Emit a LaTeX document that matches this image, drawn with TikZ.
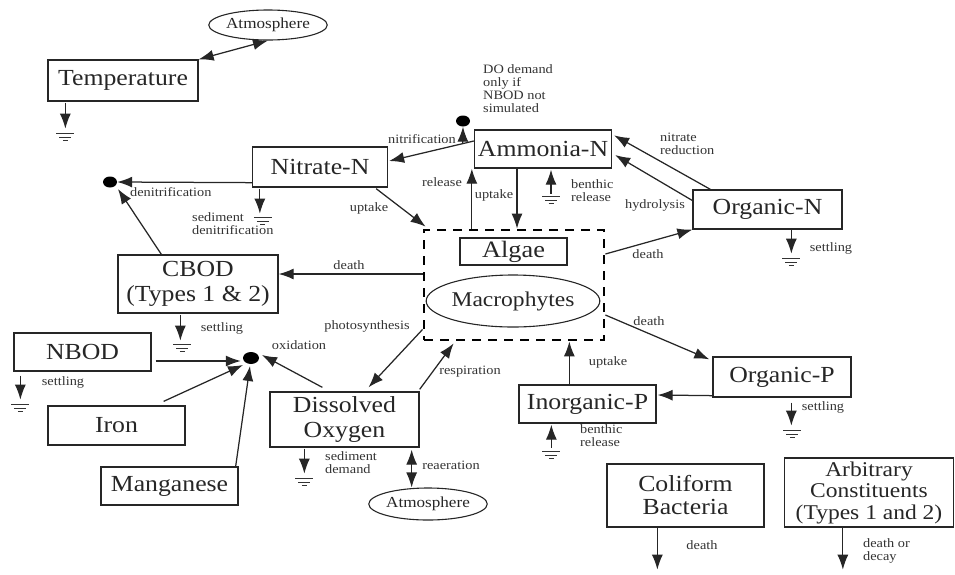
\documentclass[tikz,border=0pt]{standalone}
\usepackage{fontspec}
\setmainfont[FakeStretch=1.12]{Liberation Serif}
\usetikzlibrary{arrows.meta,calc,shapes.geometric}
\tikzset{
  gnd/.pic={\draw[line width=1pt,black!80] (-9,0)--(9,0) (-6,3.5)--(6,3.5) (-2.5,7)--(2.5,7);}
}
\begin{document}
\begin{tikzpicture}[x=1pt,y=-1pt,
  every node/.style={text=black!85},
  box/.style={draw=black!85, line width=1.3pt, inner sep=0pt, align=center,
    font=\fontsize{23}{25}\selectfont},
  oval/.style={draw=black!85, ellipse, line width=1.1pt, inner sep=0pt,
    font=\fontsize{15.3}{16}\selectfont},
  lbl/.style={inner sep=0pt, align=left, text=black!80,
    font=\fontsize{12.8}{13}\selectfont},
  tip/.style={},
  arr/.style={draw=black!85, line width=1.25pt, -{Latex[length=15pt,width=11pt]}},
  dbl/.style={draw=black!85, line width=1.25pt,
    {Latex[length=15pt,width=11pt]}-{Latex[length=15pt,width=11pt]}},
  sink/.style={fill=black, ellipse, minimum width=14pt, minimum height=11pt, inner sep=0pt},
  plantbox/.style={draw=black, line width=2.8pt, dash pattern=on 9pt off 7pt,
    minimum width=180, minimum height=110, inner sep=0pt}
]
\useasboundingbox (0,0) rectangle (955,574);

% ---------- compartments ----------
\node[box, minimum width=150, minimum height=41] (temp) at (123,80.5) {Temperature};
\node[oval, minimum width=102, minimum height=30] (atm1) at (268,25) {Atmosphere};
\node[box, minimum width=135, minimum height=40] (nit) at (320,167) {Nitrate-N};
\node[box, minimum width=137, minimum height=38] (amm) at (543,149) {Ammonia-N};
\node[box, minimum width=149, minimum height=39] (orgn) at (767.5,209.5) {Organic-N};
\node[plantbox] (plants) at (514,285) {};
\node[box, minimum width=107, minimum height=27, font=\fontsize{23.5}{25}\selectfont] (alg) at (513.5,251.5) {Algae};
\node[oval, minimum width=140, minimum height=52, font=\fontsize{21}{22}\selectfont] (mac) at (513,301) {Macrophytes};
\node[box, minimum width=160, minimum height=58] (cbod) at (198,284) {CBOD\\(Types 1 \& 2)};
\node[box, minimum width=137, minimum height=38] (nbod) at (82.5,352) {NBOD};
\node[box, minimum width=137, minimum height=39] (iron) at (116.5,425.5) {Iron};
\node[box, minimum width=137, minimum height=38] (mn) at (169.5,486) {Manganese};
\node[box, minimum width=149, minimum height=55] (dox) at (344.5,419.5) {Dissolved\\Oxygen};
\node[oval, minimum width=106, minimum height=32] (atm2) at (428,504) {Atmosphere};
\node[box, minimum width=137, minimum height=38] (inp) at (587.5,404) {Inorganic-P};
\node[box, minimum width=138, minimum height=40] (orgp) at (782,377) {Organic-P};
\node[box, minimum width=157, minimum height=63, font=\fontsize{23}{23}\selectfont] (coli) at (685.5,495.5) {Coliform\\Bacteria};
\node[box, minimum width=169, minimum height=69, font=\fontsize{21}{21.5}\selectfont] (arb) at (869,492.5) {Arbitrary\\Constituents\\(Types 1 and 2)};

% ---------- sinks ----------
\node[sink] (dod) at (463,121) {};
\node[sink] (dn) at (110,182) {};
\node[sink, minimum width=16pt, minimum height=12pt] (ox) at (251,358) {};

% ---------- temperature ----------
\draw[dbl] (temp.north east) -- (atm1.south);
\draw[arr] ($(temp.south west)+(18,1)$) -- ($(temp.south west)+(18,27)$) coordinate (tg);
\pic at ($(tg)+(0,5)$) {gnd};

% ---------- nitrogen ----------
\coordinate (nfs) at ($(amm.west)+(0,-8)$);
\coordinate (nfe) at ($(nit.east)+(1,-6)$);
\draw[arr] (nfs) -- (nfe);
\draw[arr] ($(nfs)!0.13!(nfe)$) -- (dod.south);
\node[lbl, anchor=east] (lnitr) at (456,139) {nitrification};
\node[lbl, anchor=north west] (ldod) at (483,64) {DO demand\\only if\\NBOD not\\simulated};

\draw[arr] ($(nit.south west)+(0,-5)$) -- (dn.east);
\draw[arr] ($(cbod.north west)+(44,0)$) -- ($(dn.center)+(8,7)$);
\node[lbl, anchor=west] (ldn) at (130,192) {denitrification};

\draw[arr] ($(nit.south west)+(8,1)$) -- ($(nit.south west)+(8,26)$) coordinate (ng);
\pic at ($(ng)+(3,4)$) {gnd};
\node[lbl, anchor=north west] (lsd) at (192,212) {sediment\\denitrification};

\draw[arr] ($(nit.south east)+(-12,1)$) -- ($(plants.north west)+(3,-2)$);
\node[lbl] (lup1) at (369,208) {uptake};

\coordinate (relb) at ($(amm.south west)+(-2,0)$);
\draw[arr] (relb |- plants.north) -- (relb);
\node[lbl] (lrel) at (442,182) {release};
\coordinate (upt) at ($(amm.south)+(-26,0)$);
\draw[arr] (upt) -- (upt |- plants.north);
\node[lbl] (lup2) at (494,195) {uptake};

\coordinate (abr) at ($(amm.south)+(8,25)$);
\draw[arr] (abr) -- ($(amm.south)+(8,1)$);
\pic at ($(abr)+(0,3)$) {gnd};
\node[lbl, anchor=north west] (lbr1) at (571,179) {benthic\\release};

\draw[arr] ($(orgn.north west)+(18,0)$) -- ($(amm.north east)+(2,6)$);
\node[lbl, anchor=north west] (lnr) at (660,133) {nitrate\\reduction};
\draw[arr] ($(orgn.west)+(0,-9)$) -- ($(amm.east)+(3,6)$);
\node[lbl] (lhyd) at (655,205) {hydrolysis};

\draw[arr] ($(plants.east)+(0,-31)$) -- (orgn.south west);
\node[lbl] (ld1) at (648,254) {death};

\draw[arr] ($(orgn.south west)+(99,0)$) -- ($(orgn.south west)+(99,24)$) coordinate (og);
\pic at ($(og)+(0,5)$) {gnd};
\node[lbl] (lset1) at (831,248) {settling};

% ---------- oxygen demand ----------
\draw[arr] ($(plants.west)+(0,-11)$) -- ($(cbod.east)+(0,-10)$);
\node[lbl] (ld2) at (349,265) {death};

\draw[arr] ($(cbod.south west)+(63,1)$) -- ($(cbod.south west)+(63,27)$) coordinate (cg);
\pic at ($(cg)+(2,4)$) {gnd};
\node[lbl] (lset2) at (222,328) {settling};

\draw[arr] ($(nbod.east)+(4,9)$) -- ($(ox.west)+(-2,3)$);
\draw[arr] ($(nbod.south west)+(7,4)$) -- ($(nbod.south west)+(7,28)$) coordinate (nbg);
\pic at ($(nbg)+(0,5)$) {gnd};
\node[lbl] (lset3) at (63,382) {settling};

\draw[arr] ($(iron.north east)+(-22,-4)$) -- ($(ox.center)+(-8,7)$);
\draw[arr] ($(mn.north east)+(-3,0)$) -- ($(ox.center)+(-1,8)$);
\draw[arr] ($(dox.north west)+(53,-4)$) -- ($(ox.center)+(11,-3)$);
\node[lbl] (lox) at (299,345) {oxidation};

\draw[arr] ($(plants.south west)+(0,-12)$) -- ($(dox.north)+(24,-4)$);
\node[lbl] (lph) at (367,326) {photosynthesis};
\draw[arr] ($(dox.north east)+(0,-2)$) -- ($(plants.south west)+(31,2)$);
\node[lbl] (lresp) at (470,372) {respiration};

\draw[arr] ($(dox.south west)+(35,1)$) -- ($(dox.south west)+(35,26)$) coordinate (dg);
\pic at ($(dg)+(0,5)$) {gnd};
\node[lbl, anchor=north west] (lsed) at (325,451) {sediment\\demand};

\coordinate (rea) at ($(dox.south east)+(-8,2)$);
\draw[dbl] (rea) -- (rea |- atm2.north);
\node[lbl] (lrea) at (451,465) {reaeration};

% ---------- phosphorus ----------
\coordinate (pup) at ($(inp.north west)+(51,0)$);
\draw[arr] (pup) -- (pup |- plants.south);
\node[lbl] (lup3) at (608,362) {uptake};

\coordinate (pbr) at ($(inp.south west)+(33,24)$);
\draw[arr] (pbr) -- ($(inp.south west)+(33,1)$);
\pic at ($(pbr)+(0,4)$) {gnd};
\node[lbl, anchor=north west] (lbr2) at (580,424) {benthic\\release};

\draw[arr] ($(plants.east)+(0,30)$) -- ($(orgp.north west)+(-3,3)$);
\node[lbl] (ld3) at (649,321) {death};

\draw[arr] ($(orgp.south west)+(0,-2)$) -- ($(inp.east)+(1,-9)$);

\draw[arr] ($(orgp.south west)+(79,5)$) -- ($(orgp.south west)+(79,28)$) coordinate (pg);
\pic at ($(pg)+(1,5)$) {gnd};
\node[lbl] (lset4) at (823,407) {settling};

% ---------- other constituents ----------
\draw[arr] ($(coli.south west)+(51,0)$) -- ($(coli.south west)+(51,42)$) coordinate (ce);
\node[lbl] (ld4) at (702,545) {death};
\draw[arr] ($(arb.south west)+(59,0)$) -- ($(arb.south west)+(59,42)$) coordinate (ae);
\node[lbl, anchor=north west] (ld5) at (863,538) {death or\\decay};
\end{tikzpicture}
\end{document}
